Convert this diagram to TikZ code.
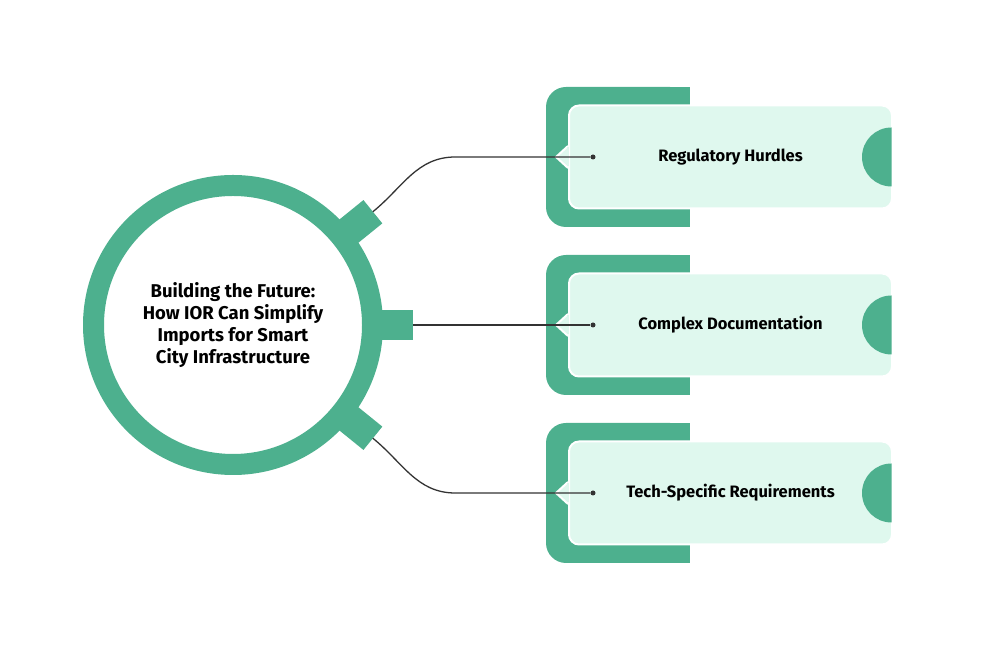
\documentclass[tikz,border=0pt]{standalone}
\usepackage{fontspec}
\setmainfont{Fira Sans}
\usetikzlibrary{positioning, calc}

\definecolor{ringgreen}{HTML}{4DB08E}
\definecolor{cardmint}{HTML}{DFF8EE}
\definecolor{linkgray}{HTML}{333333}

\begin{document}
\begin{tikzpicture}[
    x=1pt, y=1pt,
    hubring/.style={circle, fill=white, draw=ringgreen, line width=21pt, minimum size=279pt, inner sep=0pt, align=center, font=\bfseries\fontsize{18.5}{22}\selectfont},
    card/.style={fill=cardmint, draw=white, line width=2pt, rounded corners=10pt, minimum width=323pt, minimum height=103pt, inner sep=0pt, font=\bfseries\fontsize{16.5}{18}\selectfont},
    notch/.style={fill=cardmint, draw=white, line width=2pt},
    dot/.style={circle, fill=linkgray, inner sep=0pt, minimum size=5pt},
    link/.style={draw=linkgray, line width=1.3pt}
]
\useasboundingbox (0,0) rectangle (998,652);

% --- Hub ---
\node[hubring] (hub) at (233,327) {Building the Future:\\How IOR Can Simplify\\Imports for Smart\\City Infrastructure};
\foreach \a [count=\i] in {39,0,-39} {
    \begin{scope}[shift={(hub.center)}, rotate=\a]
        \fill[ringgreen] (136,-15) rectangle (180,15);
    \end{scope}
    \coordinate (tab\i) at ($(hub.center)+(\a:180)$);
}

% --- Cards ---
\foreach \y/\txt [count=\i] in {495/Regulatory Hurdles, 327/Complex Documentation, 159/Tech-Specific Requirements} {
    \fill[ringgreen, rounded corners=20pt] (546,\y-70) rectangle (690,\y+70);
    \fill[ringgreen] (620,\y-70) rectangle (690,\y+70);
    \node[card] (card\i) at (730.5,\y) {\txt\hspace{9pt}};
    % little pointer on the left side
    \filldraw[notch] ([yshift=11pt]card\i.west) -- ++(-12,-11) -- ++(12,-11);
    \fill[cardmint] ([shift={(-1.2,-9.5)}]card\i.west) rectangle ([shift={(1.2,9.5)}]card\i.west);
    % half disc on the right side
    \fill[ringgreen] ([shift={(-1.5,29.5)}]card\i.east) arc[start angle=90, end angle=270, radius=29.5] -- cycle;
    \node[dot] (dot\i) at (593,\y) {};
}

% --- Links ---
\coordinate[left=135pt of dot1] (bend1);
\coordinate[left=135pt of dot3] (bend3);
\draw[link] (tab1) to[out=39, in=180] (bend1) -- (dot1);
\draw[link] (tab2) -- (dot2);
\draw[link] (tab3) to[out=-39, in=180] (bend3) -- (dot3);

\end{tikzpicture}
\end{document}
